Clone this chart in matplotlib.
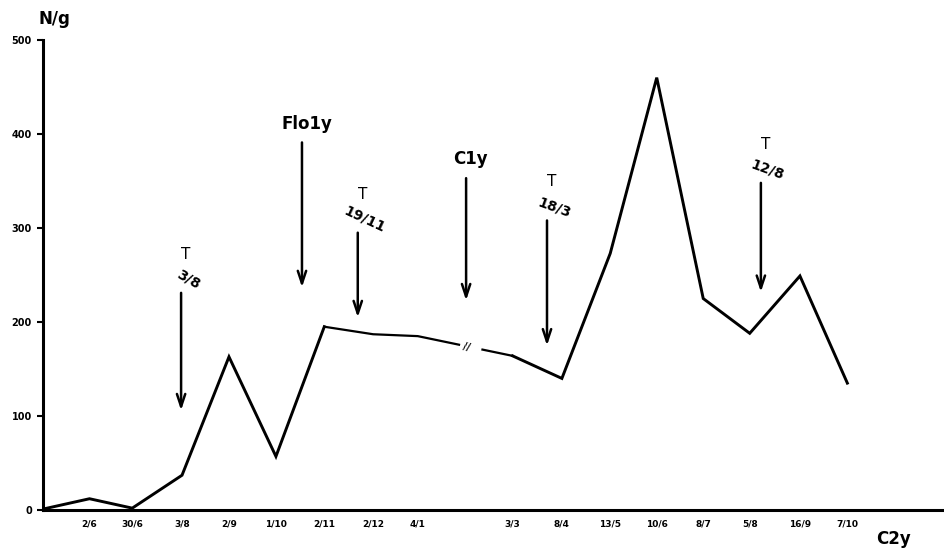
import numpy as np
import matplotlib.pyplot as plt

# sampling dates (position along axis, label) and N/g values
x_pos = [0.0, 1.0, 1.92, 2.99, 4.0, 5.01, 6.05, 7.1, 8.06, 10.1, 11.16, 12.2, 13.2, 14.2, 15.2, 16.28, 17.3]
dates = ["", "2/6", "30/6", "3/8", "2/9", "1/10", "2/11", "2/12", "4/1",
         "3/3", "8/4", "13/5", "10/6", "8/7", "5/8", "16/9", "7/10"]
n_per_g = [1, 12, 2, 37, 163, 57, 195, 187, 185, 164, 140, 273, 460, 225, 188, 249, 135]

# treatments / events: (top text, sub text, x, arrow start, arrow tip)
events = [
    ("T", "3/8", 2.97, 234, 103),
    ("Flo1y", "", 5.57, 394, 234),
    ("T", "19/11", 6.77, 298, 202),
    ("C1y", "", 9.1, 356, 220),
    ("T", "18/3", 10.84, 311, 172),
    ("T", "12/8", 15.44, 351, 229),
]
sub_rot = {"3/8": -30, "19/11": -25, "18/3": -20, "12/8": -20}
break_x = 9.15  # axis break between 4/1 and 3/3

plt.rcParams['font.family'] = ['DejaVu Sans']
fig = plt.figure(figsize=(9.45, 5.5), dpi=100)
ax = fig.add_axes([0.0455, 0.0727, 0.9545, 0.8545])

ax.plot(x_pos[:7], n_per_g[:7], color='black', lw=2.1, solid_joinstyle='miter', zorder=3)
ax.plot(x_pos[6:10], n_per_g[6:10], color='black', lw=1.6, zorder=3)
ax.plot(x_pos[9:], n_per_g[9:], color='black', lw=2.1, solid_joinstyle='miter', zorder=3)

# break in the line
gx = np.array([break_x - 0.12, break_x + 0.22])
gy = np.interp(gx, x_pos, n_per_g)
ax.plot(gx, gy, color='white', lw=4, zorder=4)
ax.text(break_x - 0.05, np.interp(break_x, x_pos, n_per_g), "//", fontsize=7,
        fontweight='bold', ha='center', va='center', rotation=-15, zorder=5)

for top, sub, x, y0, y1 in events:
    ax.annotate("", xy=(x, y1), xytext=(x, y0),
                arrowprops=dict(arrowstyle='->,head_length=0.9,head_width=0.3',
                                color='black', lw=1.8))
    if sub:
        ax.text(x + 0.15, y0 + 11, sub, fontsize=10, fontweight='bold',
                ha='center', va='center', rotation=sub_rot[sub])
        ax.text(x + 0.1, y0 + 38, top, fontsize=11, ha='center', va='center')
    else:
        ax.text(x + 0.1, y0 + 17, top, fontsize=12, fontweight='bold',
                ha='center', va='center')

ax.set_xlim(0, 19.4)
ax.set_ylim(0, 500)
ax.set_yticks([0, 100, 200, 300, 400, 500])
ax.set_yticklabels(["0", "100", "200", "300", "400", "500"], fontsize=7, fontweight='bold')
ax.set_xticks(x_pos[1:])
ax.set_xticklabels(dates[1:], fontsize=6.5, fontweight='bold')
ax.tick_params(axis='y', direction='out', length=4, width=1.5, pad=4)
ax.tick_params(axis='x', length=0, pad=7)

for s in ['top', 'right']:
    ax.spines[s].set_visible(False)
ax.spines['left'].set_linewidth(2.2)
ax.spines['bottom'].set_linewidth(2.2)

fig.text(0.058, 0.965, "N/g", fontsize=12, fontweight='bold', ha='center', va='center')
fig.text(0.945, 0.02, "C2y", fontsize=12, fontweight='bold', ha='center', va='center')

fig.savefig("out.png", dpi=100)
